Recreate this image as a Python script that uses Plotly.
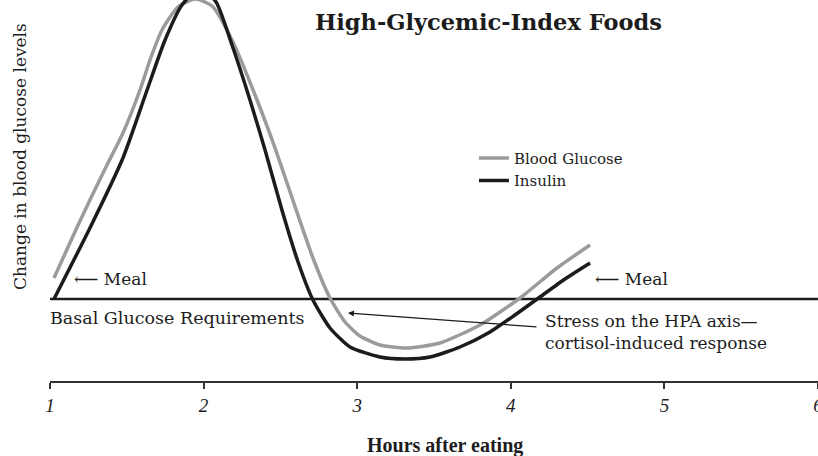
import plotly.graph_objects as go

# Hours after eating (x) and change in level (arbitrary units, 0 = basal)
glucose_x = [1.026, 1.150, 1.260, 1.371, 1.475, 1.586, 1.651, 1.729, 1.833, 1.944, 2.055,
             2.185, 2.348, 2.465, 2.563, 2.712, 2.823, 2.921, 3.018, 3.148, 3.324, 3.539,
             3.799, 4.060, 4.301, 4.516]
glucose_y = [0.21, 0.63, 0.99, 1.34, 1.66, 2.09, 2.39, 2.69, 2.92, 3.00, 2.93,
             2.59, 1.99, 1.51, 1.07, 0.41, 0.01, -0.23, -0.37, -0.46, -0.49, -0.44,
             -0.26, 0.01, 0.31, 0.54]

insulin_x = [1.026, 1.260, 1.475, 1.632, 1.749, 1.859, 1.977, 2.081, 2.185, 2.302, 2.400,
             2.510, 2.615, 2.712, 2.823, 2.953, 3.148, 3.311, 3.474, 3.669, 3.865, 4.027,
             4.190, 4.353, 4.516]
insulin_y = [0.00, 0.71, 1.41, 2.09, 2.59, 2.94, 3.11, 2.97, 2.54, 1.99, 1.49,
             0.89, 0.37, -0.01, -0.29, -0.48, -0.58, -0.60, -0.58, -0.48, -0.33, -0.16,
             0.02, 0.20, 0.36]

basal_x = [1.0, 6.0]
basal_y = [0.0, 0.0]

tick_vals = [1, 2, 3, 4, 5, 6]
tick_text = ["1", "2", "3", "4", "5", "6"]

SERIF = "DejaVu Serif"
GRAY = "#9b9b9b"
BLACK = "#1c1c1c"

fig = go.Figure()
fig.add_trace(go.Scatter(x=basal_x, y=basal_y, mode="lines", showlegend=False,
                         line=dict(color=BLACK, width=2.5), hoverinfo="skip"))
fig.add_trace(go.Scatter(x=glucose_x, y=glucose_y, mode="lines", name="Blood Glucose",
                         line=dict(color=GRAY, width=3.5, shape="spline", smoothing=0.6)))
fig.add_trace(go.Scatter(x=insulin_x, y=insulin_y, mode="lines", name="Insulin",
                         line=dict(color=BLACK, width=3.5, shape="spline", smoothing=0.6)))

fig.update_layout(
    width=818, height=456,
    margin=dict(l=50, r=0, t=0, b=75),
    paper_bgcolor="white", plot_bgcolor="white",
    font=dict(family=SERIF, color=BLACK),
    showlegend=True,
    legend=dict(x=0.552, y=0.628, xanchor="left", yanchor="top",
                font=dict(family=SERIF, size=15, color=BLACK),
                bgcolor="rgba(0,0,0,0)", tracegroupgap=0),
    xaxis=dict(range=[1, 6.0001], tickvals=tick_vals, ticktext=tick_text,
               showline=True, linecolor="#333333", linewidth=2, automargin=False,
               ticks="outside", ticklen=6, tickwidth=1.5, tickcolor="#333333",
               showgrid=False, zeroline=False, ticklabeloverflow="allow",
               tickfont=dict(family="Liberation Serif", size=19, style="italic", color=BLACK)),
    yaxis=dict(range=[-0.82, 2.99], visible=False, showgrid=False, zeroline=False,
               automargin=False),
)

annotations = [
    dict(text="<b>High-Glycemic-Index Foods</b>", xref="paper", yref="paper",
         x=(488 - 50) / 768, y=(381 - 22) / 381, xanchor="center", yanchor="middle",
         showarrow=False, font=dict(family=SERIF, size=22.5, color=BLACK)),
    dict(text="Change in blood glucose levels", xref="paper", yref="paper",
         x=-0.039, y=0.588, xanchor="center", yanchor="middle", textangle=-90, showarrow=False,
         font=dict(family=SERIF, size=17, color=BLACK)),
    dict(text="<b>Hours after eating</b>", xref="paper", yref="paper",
         x=(445 - 50) / 768, y=(381 - 445) / 381, xanchor="center", yanchor="middle",
         showarrow=False, font=dict(family="Liberation Serif", size=20, color=BLACK)),
    dict(text="⟵ Meal", x=1.143, y=0.20, xanchor="left", showarrow=False,
         font=dict(family=SERIF, size=17, color=BLACK)),
    dict(text="⟵ Meal", x=4.535, y=0.20, xanchor="left", showarrow=False,
         font=dict(family=SERIF, size=17, color=BLACK)),
    dict(text="Basal Glucose Requirements", xref="paper", x=-0.003, y=-0.19,
         xanchor="left", showarrow=False, font=dict(family=SERIF, size=17.5, color=BLACK)),
    dict(text="Stress on the HPA axis—<br>cortisol-induced response", x=4.210, y=-0.325,
         xanchor="left", yanchor="middle", align="left", showarrow=False,
         font=dict(family=SERIF, size=17, color=BLACK)),
    dict(text="", x=2.940, y=-0.14, ax=190, ay=14, showarrow=True,
         arrowhead=2, arrowsize=1, arrowwidth=1.2, arrowcolor=BLACK),
]
fig.update_layout(annotations=annotations)

fig.write_html("out.html", config={"displayModeBar": False},
               post_script="document.body.style.margin='0';")
